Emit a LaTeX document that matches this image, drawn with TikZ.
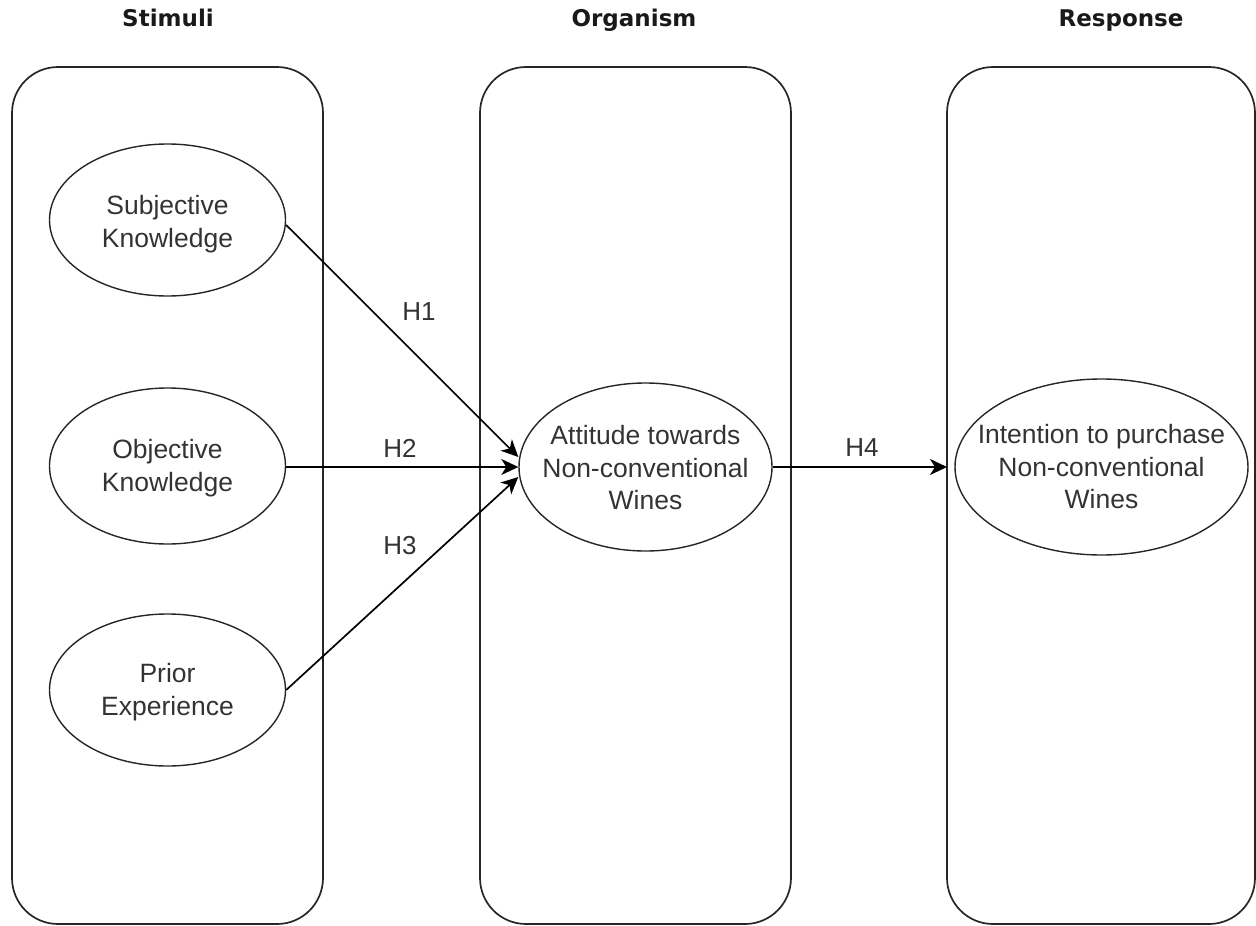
\documentclass[tikz,border=0pt]{standalone}
\usepackage{fontspec}
\setmainfont{Liberation Sans}
\newfontfamily\titlefont{DejaVu Sans}
\usetikzlibrary{shapes.geometric,arrows.meta}
\definecolor{txt}{HTML}{333333}
\tikzset{
  container/.style={draw=black!85, line width=1.7pt, rounded corners=46pt},
  oval/.style={ellipse, draw=black!85, line width=1.4pt, inner sep=0pt},
  ovaltext/.style={align=center, text=txt, inner sep=0pt, font=\fontsize{26.5}{32.5}\selectfont},
  title/.style={font=\titlefont\bfseries\fontsize{23}{28}\selectfont, text=black!90, anchor=base},
  lbl/.style={font=\fontsize{26}{30}\selectfont, text=txt},
  arr/.style={line width=1.7pt, draw=black, -{Stealth[length=17pt,width=16pt,inset=5pt]}}
}
\begin{document}
\begin{tikzpicture}[x=1pt,y=-1pt]
\useasboundingbox (0,0) rectangle (1256,926);
% containers
\draw[container] (12,67) rectangle (323,924);
\draw[container] (480,67) rectangle (791,924);
\draw[container] (947,67) rectangle (1255,924);
\coordinate (respw) at (947,467);
% titles
\node[title] (tS) at (168,27) {Stimuli};
\node[title] (tO) at (634,27) {Organism};
\node[title] (tR) at (1121,27) {Response};
% ellipses
\node[oval, minimum width=236pt, minimum height=152pt] (sk) at (167.5,220) {};
\node[oval, minimum width=236pt, minimum height=156pt] (ok) at (167.5,466) {};
\node[oval, minimum width=236pt, minimum height=152pt] (pe) at (167.5,690) {};
\node[oval, minimum width=253pt, minimum height=168pt] (att) at (645.5,467) {};
\node[oval, minimum width=293pt, minimum height=176pt] (int) at (1101.5,467) {};
\node[ovaltext] (sktxt) at ([yshift=-4pt]sk.center) {Subjective\\Knowledge};
\node[ovaltext] (oktxt) at ([yshift=-2pt]ok.center) {Objective\\Knowledge};
\node[ovaltext] (petxt) at ([yshift=-2pt]pe.center) {Prior\\Experience};
\node[ovaltext] (atttxt) at ([yshift=-1pt]att.center) {Attitude towards\\Non-conventional\\Wines};
\node[ovaltext] (inttxt) at ([yshift=0pt]int.center) {Intention to purchase\\Non-conventional\\Wines};
% connectors
\draw[arr] ([yshift=-5pt]sk.east) -- ([yshift=10pt]att.west);
\draw[arr] ([yshift=-1pt]ok.east) -- ([yshift=0pt]att.west);
\draw[arr] (pe.east) -- ([yshift=-10pt]att.west);
\draw[arr] (att.east) -- (respw);
% labels
\node[lbl] (h1) at (419,312) {H1};
\node[lbl] (h2) at (400,448) {H2};
\node[lbl] (h3) at (400,546) {H3};
\node[lbl] (h4) at (862,448) {H4};
\end{tikzpicture}
\end{document}
